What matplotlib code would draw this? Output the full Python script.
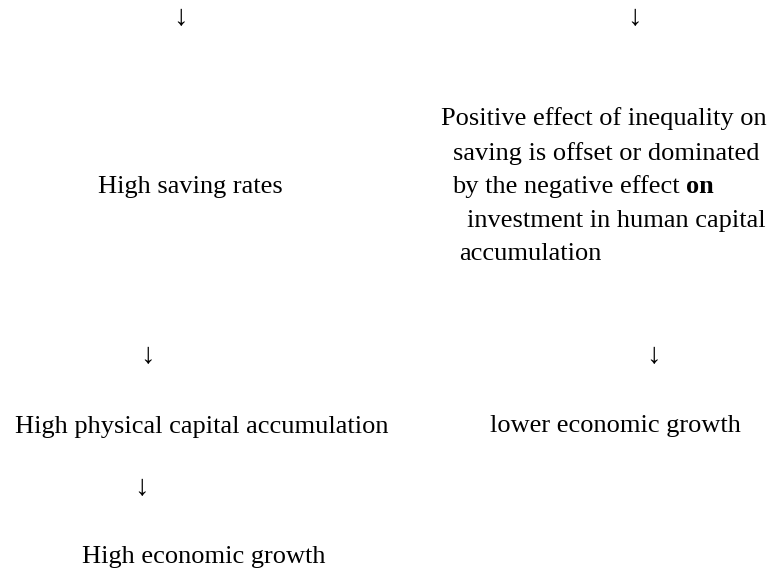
import matplotlib
matplotlib.use("Agg")
import matplotlib.pyplot as plt

# ---- content (text only) ----
left_chain = ["High saving rates",
              "High physical capital accumulation",
              "High economic growth"]
right_lines = ["Positive effect of inequality on",
               "saving is offset or dominated",
               "by the negative effect ",
               "investment in human capital",
               "accumulation"]
bold_word = "on"
right_result = "lower economic growth"
arrow = "\u2193"

# ---- layout (pixel coordinates, origin top-left) ----
W, H = 770, 571
FS = 19
FAM = ["Liberation Serif", "DejaVu Serif"]

left_pos = [(98, 193), (15, 433), (82, 563)]
right_pos = [(441, 125), (453, 160), (452, 193), (467, 227), (459, 260)]
result_pos = (490, 432)
arrow_pos = [(180, 18), (634, 18), (147, 356), (653, 356), (141, 488)]

fig = plt.figure(figsize=(W / 100, H / 100), dpi=100)
ax = fig.add_axes([0, 0, 1, 1])
ax.set_xlim(0, W)
ax.set_ylim(H, 0)
ax.axis("off")

for txt, (x, y) in zip(left_chain, left_pos):
    ax.text(x, y, txt, fontsize=FS, family=FAM, ha="left", va="baseline")

for i, (txt, (x, y)) in enumerate(zip(right_lines, right_pos)):
    t = ax.text(x, y, txt, fontsize=FS, family=FAM, ha="left", va="baseline")
    if i == 2:
        fig.canvas.draw()
        bb = t.get_window_extent(renderer=fig.canvas.get_renderer())
        inv = ax.transData.inverted()
        x_end = inv.transform((bb.x1, bb.y0))[0]
        ax.text(x_end, y, bold_word, fontsize=FS, family=FAM, weight="bold",
                ha="left", va="baseline")

ax.text(result_pos[0], result_pos[1], right_result, fontsize=FS, family=FAM,
        ha="left", va="baseline")

for (x, y) in arrow_pos:
    ax.text(x, y, arrow, fontsize=FS + 2, family=FAM, ha="center", va="center")

fig.savefig("out.png", dpi=100)
